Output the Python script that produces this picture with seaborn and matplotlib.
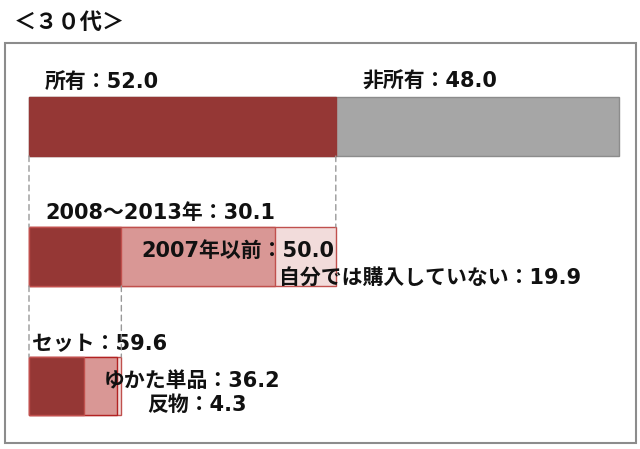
"""
Yukata ownership breakdown, 30s age group.
Three stacked bars, each one drilling into a segment of the bar above.
"""

import matplotlib

matplotlib.use("Agg")
import matplotlib.pyplot as plt
import matplotlib.transforms as mtransforms
import seaborn as sns
from matplotlib.patches import ConnectionPatch, Rectangle

# data
title = "＜３０代＞"

own_labels = ["所有", "非所有"]
own_values = [52.0, 48.0]

year_labels = ["2008～2013年", "2007年以前", "自分では購入していない"]
year_values = [30.1, 50.0, 19.9]

type_labels = ["セット", "ゆかた単品", "反物"]
type_values = [59.6, 36.2, 4.3]

# colors
DARK = "#953735"
MID = "#D99795"
LIGHT = "#F2DCDB"
GRAY = "#A6A6A6"
EDGE = "#C0504D"

sns.set_theme(style="white")
# DejaVu for the digits (wide, like the original), CJK falls through to Noto
plt.rcParams["font.family"] = ["DejaVu Sans", "Noto Sans CJK JP"]

W, H = 640, 449
fig = plt.figure(figsize=(W / 100, H / 100), dpi=100)


def px_axes(left, top, width, height):
    """Add axes positioned in figure pixels (top-left origin)"""
    return fig.add_axes([left / W, 1 - (top + height) / H, width / W, height / H])


def stacked_bar(ax, values, colors, edges):
    """Stacked horizontal bar, drawn as overlaid cumulative seaborn bars"""
    cum = []
    total = 0
    for v in values:
        total += v
        cum.append(total)
    for c, col, ec in reversed(list(zip(cum, colors, edges))):
        sns.barplot(x=[c], y=["r"], orient="h", color=col, saturation=1,
                    width=1, edgecolor=ec, linewidth=1, ax=ax)
    ax.set_xlim(0, sum(values))
    ax.set_ylim(0.5, -0.5)
    ax.axis("off")
    for p in ax.patches:
        p.set_clip_on(False)
    return cum


def label(ax, text, x, dx, dy, ref=1.0, ha="left"):
    ax.annotate(text, xy=(x, ref), xycoords=("data", "axes fraction"),
                xytext=(dx, dy), textcoords="offset pixels", ha=ha, va="center",
                fontsize=15, fontweight="bold", color="#111111",
                annotation_clip=False)


bar_left = 29
full_w = 590
w2 = full_w * own_values[0] / 100
w3 = w2 * year_values[0] / 100

ax1 = px_axes(bar_left, 97, full_w, 59)
ax2 = px_axes(bar_left, 227, w2, 59)
ax3 = px_axes(bar_left, 357, w3, 58)

c1 = stacked_bar(ax1, own_values, [DARK, GRAY], [DARK, "#8C8C8C"])
c2 = stacked_bar(ax2, year_values, [DARK, MID, LIGHT], [EDGE, EDGE, EDGE])
c3 = stacked_bar(ax3, type_values, [DARK, MID, LIGHT], [EDGE, "#B22222", EDGE])

# labels
label(ax1, f"{own_labels[0]}：{own_values[0]:.1f}", 0, 16, 15)
label(ax1, f"{own_labels[1]}：{own_values[1]:.1f}", c1[0], 27, 15)

label(ax2, f"{year_labels[0]}：{year_values[0]:.1f}", 0, 16, 14)
label(ax2, f"{year_labels[1]}：{year_values[1]:.1f}", c2[2], -1, 6, ref=0.5, ha="right")
label(ax2, f"{year_labels[2]}：{year_values[2]:.1f}", c2[1], 4, -21, ref=0.5)

label(ax3, f"{type_labels[0]}：{type_values[0]:.1f}", 0, 3, 13)
label(ax3, f"{type_labels[1]}：{type_values[1]:.1f}", c3[0], 20, 5, ref=0.5)
label(ax3, f"{type_labels[2]}：{type_values[2]:.1f}", c3[0], 63, -19, ref=0.5)


def blend(ax):
    return mtransforms.blended_transform_factory(ax.transData, ax.transAxes)


# dashed connectors between levels
for upper, lower, xs in [(ax1, ax2, [(0, 0), (c1[0], c2[-1])]),
                         (ax2, ax3, [(0, 0), (c2[0], c3[-1])])]:
    for xa, xb in xs:
        con = ConnectionPatch(xyA=(xa, 0), coordsA=blend(upper),
                              xyB=(xb, 1), coordsB=blend(lower),
                              color="#999999", linestyle=(0, (4, 3)), linewidth=1)
        fig.add_artist(con)

# frame and title
fig.add_artist(Rectangle((5 / W, 1 - 443 / H), 631 / W, 400 / H, transform=fig.transFigure,
                         fill=False, edgecolor="#8C8C8C", linewidth=1.5))
fig.text(14 / W, 1 - 22 / H, title, fontsize=16, fontweight="bold", va="center", ha="left",
         color="#111111", family=["Noto Sans CJK JP"])

fig.savefig("out.png", dpi=100)
